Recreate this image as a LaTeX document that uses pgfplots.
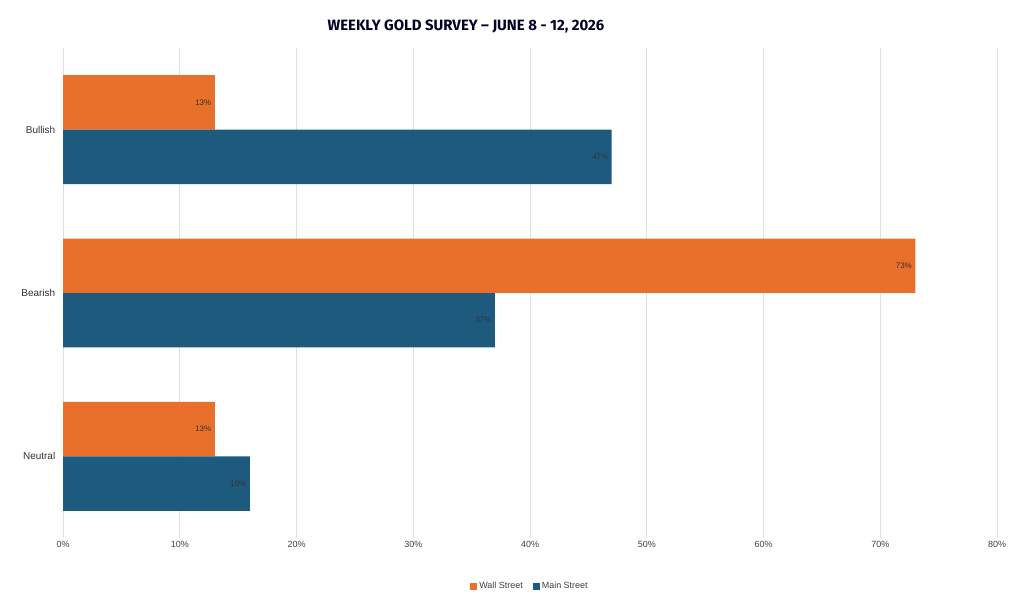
\documentclass[border=0pt]{standalone}
\usepackage{pgfplots}
\pgfplotsset{compat=1.18}
\usepackage{fontspec}
\setmainfont{Liberation Sans}
\newfontfamily\titlefont{Fira Sans}
\definecolor{wall}{HTML}{E8702A}
\definecolor{main}{HTML}{1D5A7E}
\definecolor{gridc}{HTML}{D5E3EC}
\begin{document}
\begin{tikzpicture}[x=1bp,y=1bp]
\path (0,0) rectangle (1022,604);
\node[font=\titlefont\bfseries\fontsize{15}{18}\selectfont, text=black!85!blue] at (466,577) {WEEKLY GOLD SURVEY – JUNE 8 - 12, 2026};
\begin{axis}[
  at={(63bp,66bp)}, anchor=south west, scale only axis,
  width=934bp, height=490bp,
  xmin=0, xmax=80, ymin=-0.5, ymax=2.5,
  xbar, bar width=0.333,
  xtick={0,10,...,80}, xticklabel={\pgfmathprintnumber{\tick}\%},
  ytick={0,1,2}, yticklabels={Neutral,Bearish,Bullish},
  xmajorgrids, grid style={gridc, line width=0.8pt},
  axis line style={draw=none}, major tick style={draw=none},
  tick label style={font=\fontsize{9}{10}\selectfont, text=black!75},
  yticklabel style={font=\fontsize{10}{12}\selectfont, text=black!80},
  /pgf/number format/assume math mode=true,
  nodes near coords={\pgfmathprintnumber{\pgfplotspointmeta}\%},
  nodes near coords style={anchor=east, font=\fontsize{8}{10}\selectfont, text=black!80},
  legend style={at={(0.5,-0.098)}, anchor=center, draw=none, legend columns=2,
    font=\fontsize{9}{10}\selectfont, text=black!75, /tikz/every even column/.append style={column sep=8pt}},
  legend image code/.code={\fill[#1] (0bp,-3.5bp) rectangle (7bp,3.5bp);},
]
\addplot[fill=wall, draw=none, bar shift=0.1667] coordinates {(13,2) (73,1) (13,0)};
\addplot[fill=main, draw=none, bar shift=-0.1667] coordinates {(47,2) (37,1) (16,0)};
\legend{Wall Street, Main Street}
\end{axis}
\end{tikzpicture}
\end{document}
